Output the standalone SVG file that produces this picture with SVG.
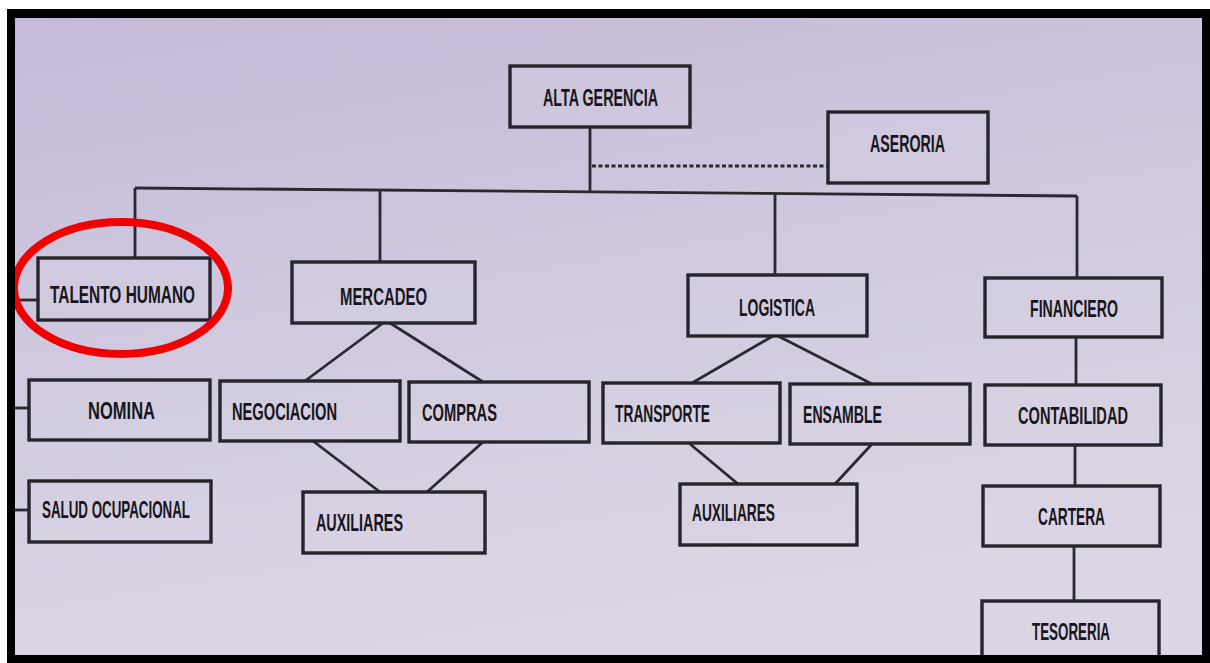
<svg xmlns="http://www.w3.org/2000/svg" width="1210" height="663" viewBox="0 0 1210 663">
<style>
.box{fill:#d6d0e2;fill-opacity:0.35;stroke:#26242c;stroke-width:3.4}
.lbl{font-family:"Liberation Sans",Arial,sans-serif;font-weight:bold;font-size:24px;fill:#18161c}
.ln{stroke:#2a2830;stroke-width:2.8;fill:none}
</style>
<defs>
<linearGradient id="bg" x1="0" y1="0" x2="0.3" y2="1">
<stop offset="0" stop-color="#c4b9d8"/>
<stop offset="0.5" stop-color="#d0c9df"/>
<stop offset="1" stop-color="#dcd6e4"/>
</linearGradient>
</defs>
<rect x="0" y="0" width="1210" height="663" fill="#ffffff"/>
<rect x="15" y="18" width="1188" height="638" fill="url(#bg)"/>
<g id="connectors">
<line class="ln" x1="590" y1="127" x2="590" y2="191"/>
<line class="ln" x1="592" y1="166" x2="828" y2="166" stroke-dasharray="4 2.5" stroke-width="3.5"/>
<path class="ln" d="M135 188 L1077 196" stroke-width="3.2"/>
<line class="ln" x1="135" y1="188" x2="135" y2="258"/>
<line class="ln" x1="380" y1="190" x2="380" y2="262"/>
<line class="ln" x1="775" y1="194" x2="775" y2="275"/>
<line class="ln" x1="1077" y1="196" x2="1077" y2="278"/>
<line class="ln" x1="15" y1="300" x2="38" y2="300"/>
<line class="ln" x1="15" y1="408" x2="29" y2="408"/>
<line class="ln" x1="15" y1="510" x2="29" y2="510"/>
<line class="ln" x1="383" y1="323" x2="305" y2="381"/>
<line class="ln" x1="390" y1="323" x2="483" y2="382"/>
<line class="ln" x1="313" y1="441" x2="380" y2="492"/>
<line class="ln" x1="483" y1="442" x2="427" y2="492"/>
<line class="ln" x1="773" y1="336" x2="692" y2="383"/>
<line class="ln" x1="778" y1="336" x2="872" y2="384"/>
<line class="ln" x1="690" y1="444" x2="738" y2="484"/>
<line class="ln" x1="872" y1="444" x2="835" y2="484"/>
<line class="ln" x1="1076" y1="337" x2="1076" y2="385"/>
<line class="ln" x1="1075" y1="445" x2="1075" y2="486"/>
<line class="ln" x1="1074" y1="546" x2="1074" y2="601"/>
</g>
<g id="alta-gerencia"><rect class="box" x="510" y="66" width="180" height="61"/><text class="lbl" x="543" y="106" textLength="115" lengthAdjust="spacingAndGlyphs">ALTA GERENCIA</text></g>
<g id="aseroria"><rect class="box" x="828" y="112" width="160" height="71"/><text class="lbl" x="870" y="152" textLength="75" lengthAdjust="spacingAndGlyphs">ASERORIA</text></g>
<g id="talento-humano"><rect class="box" x="38" y="258" width="172" height="62"/><text class="lbl" x="50" y="303" textLength="145" lengthAdjust="spacingAndGlyphs">TALENTO HUMANO</text></g>
<g id="mercadeo"><rect class="box" x="292" y="262" width="183" height="61"/><text class="lbl" x="340" y="305" textLength="87" lengthAdjust="spacingAndGlyphs">MERCADEO</text></g>
<g id="logistica"><rect class="box" x="688" y="275" width="179" height="61"/><text class="lbl" x="739" y="316" textLength="76" lengthAdjust="spacingAndGlyphs">LOGISTICA</text></g>
<g id="financiero"><rect class="box" x="985" y="278" width="177" height="59"/><text class="lbl" x="1030" y="317" textLength="88" lengthAdjust="spacingAndGlyphs">FINANCIERO</text></g>
<g id="nomina"><rect class="box" x="29" y="380" width="181" height="60"/><text class="lbl" x="88" y="419" textLength="67" lengthAdjust="spacingAndGlyphs">NOMINA</text></g>
<g id="salud-ocupacional"><rect class="box" x="29" y="481" width="182" height="61"/><text class="lbl" x="42" y="518" textLength="148" lengthAdjust="spacingAndGlyphs" font-size="21">SALUD OCUPACIONAL</text></g>
<g id="negociacion"><rect class="box" x="220" y="381" width="180" height="60"/><text class="lbl" x="232" y="420" textLength="105" lengthAdjust="spacingAndGlyphs">NEGOCIACION</text></g>
<g id="compras"><rect class="box" x="409" y="382" width="180" height="60"/><text class="lbl" x="422" y="421" textLength="75" lengthAdjust="spacingAndGlyphs">COMPRAS</text></g>
<g id="auxiliares-mercadeo"><rect class="box" x="303" y="492" width="182" height="61"/><text class="lbl" x="316" y="531" textLength="87" lengthAdjust="spacingAndGlyphs">AUXILIARES</text></g>
<g id="transporte"><rect class="box" x="603" y="383" width="177" height="60"/><text class="lbl" x="615" y="422" textLength="95" lengthAdjust="spacingAndGlyphs">TRANSPORTE</text></g>
<g id="ensamble"><rect class="box" x="790" y="384" width="180" height="60"/><text class="lbl" x="803" y="423" textLength="79" lengthAdjust="spacingAndGlyphs">ENSAMBLE</text></g>
<g id="auxiliares-logistica"><rect class="box" x="680" y="484" width="177" height="61"/><text class="lbl" x="692" y="521" textLength="83" lengthAdjust="spacingAndGlyphs">AUXILIARES</text></g>
<g id="contabilidad"><rect class="box" x="985" y="385" width="176" height="60"/><text class="lbl" x="1018" y="424" textLength="110" lengthAdjust="spacingAndGlyphs">CONTABILIDAD</text></g>
<g id="cartera"><rect class="box" x="983" y="486" width="177" height="60"/><text class="lbl" x="1038" y="525" textLength="67" lengthAdjust="spacingAndGlyphs">CARTERA</text></g>
<g id="tesoreria"><rect class="box" x="982" y="601" width="177" height="70"/><text class="lbl" x="1032" y="640" textLength="78" lengthAdjust="spacingAndGlyphs">TESORERIA</text></g>
<ellipse cx="121" cy="288" rx="107" ry="66" fill="none" stroke="#f00000" stroke-width="8"/>
<path fill="#000000" fill-rule="evenodd" d="M7 9 H1210 V663 H7 Z M15 18 V655 H1202 V18 Z"/>
</svg>
